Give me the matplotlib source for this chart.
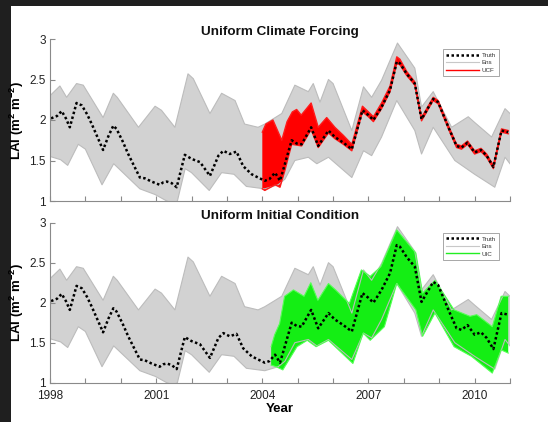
import numpy as np
import matplotlib
matplotlib.use("Agg")
import matplotlib.pyplot as plt
from matplotlib.patches import Rectangle

# === Dados ===
truth_year = [1998.03, 1998.2, 1998.33, 1998.45, 1998.56, 1998.75, 1998.9, 1999.05, 1999.18, 1999.35,
              1999.5, 1999.65, 1999.79, 1999.88, 2000.05, 2000.21, 2000.38, 2000.54, 2000.68, 2000.87,
              2001.1, 2001.2, 2001.3, 2001.44, 2001.58, 2001.7, 2001.81, 2002.0, 2002.24, 2002.52,
              2002.76, 2002.9, 2003.08, 2003.27, 2003.46, 2003.7, 2003.88, 2004.07, 2004.2, 2004.36,
              2004.5, 2004.64, 2004.83, 2004.97, 2005.11, 2005.38, 2005.58, 2005.87, 2006.05, 2006.29,
              2006.53, 2006.83, 2007.0, 2007.14, 2007.37, 2007.61, 2007.8, 2007.89, 2008.08, 2008.31,
              2008.5, 2008.83, 2008.97, 2009.26, 2009.49, 2009.63, 2009.8, 2010.0, 2010.18, 2010.34,
              2010.53, 2010.76, 2010.95]
truth_lai = [2.02, 2.05, 2.11, 2.02, 1.91, 2.21, 2.18, 2.07, 1.95, 1.78,
             1.63, 1.80, 1.93, 1.89, 1.74, 1.58, 1.43, 1.29, 1.28, 1.24,
             1.20, 1.23, 1.24, 1.22, 1.17, 1.38, 1.57, 1.52, 1.48, 1.31,
             1.56, 1.62, 1.58, 1.61, 1.43, 1.33, 1.29, 1.25, 1.27, 1.35,
             1.25, 1.46, 1.75, 1.71, 1.70, 1.91, 1.68, 1.87, 1.79, 1.72,
             1.64, 2.12, 2.06, 2.00, 2.16, 2.37, 2.72, 2.70, 2.57, 2.45,
             2.01, 2.26, 2.22, 1.91, 1.68, 1.66, 1.72, 1.60, 1.63, 1.56,
             1.42, 1.87, 1.85]

# envelope do ensemble (cinza)
ens_up_year = [1998.0, 1998.07, 1998.28, 1998.47, 1998.75, 1998.94, 1999.5, 1999.79, 1999.9, 2000.5,
               2000.97, 2001.15, 2001.53, 2001.9, 2002.05, 2002.52, 2002.85, 2003.23, 2003.5, 2003.88,
               2004.07, 2004.55, 2004.92, 2005.3, 2005.44, 2005.63, 2005.87, 2006.0, 2006.53, 2006.86,
               2007.09, 2007.37, 2007.82, 2008.31, 2008.5, 2008.83, 2009.35, 2009.82, 2010.0, 2010.48,
               2010.86, 2011.0]
ens_up_lai = [2.30, 2.33, 2.42, 2.28, 2.45, 2.43, 2.03, 2.33, 2.28, 1.91,
              2.17, 2.12, 1.91, 2.57, 2.51, 2.08, 2.33, 2.24, 1.95, 1.91,
              1.95, 2.08, 2.43, 2.35, 2.45, 2.22, 2.50, 2.45, 1.87, 2.41,
              2.28, 2.49, 2.95, 2.64, 2.16, 2.35, 1.91, 2.04, 1.97, 1.79,
              2.14, 2.08]
ens_lo_year = [1998.0, 1998.3, 1998.5, 1998.8, 1999.0, 1999.47, 1999.8, 2000.54, 2000.97, 2001.3,
               2001.5, 2001.6, 2001.82, 2002.0, 2002.5, 2002.85, 2003.2, 2003.55, 2004.07, 2004.45,
               2004.64, 2004.92, 2005.3, 2005.54, 2005.87, 2006.53, 2006.86, 2007.09, 2007.37, 2007.8,
               2008.31, 2008.5, 2008.83, 2009.44, 2010.0, 2010.57, 2010.86, 2011.0]
ens_lo_lai = [1.55, 1.51, 1.44, 1.70, 1.64, 1.20, 1.46, 1.15, 1.08, 1.00,
              0.97, 1.00, 1.40, 1.35, 1.13, 1.35, 1.33, 1.18, 1.15, 1.20,
              1.27, 1.50, 1.54, 1.46, 1.54, 1.29, 1.62, 1.56, 1.79, 2.24,
              1.87, 1.58, 1.91, 1.50, 1.33, 1.17, 1.54, 1.46]

# UCF (vermelho)
ucf_up_year = [2004.0, 2004.1, 2004.3, 2004.45, 2004.55, 2004.7, 2004.85, 2004.97, 2005.1, 2005.38,
               2005.58, 2005.82, 2006.05, 2006.29, 2006.53, 2006.83, 2007.0, 2007.14, 2007.37, 2007.61,
               2007.8, 2007.89, 2008.08, 2008.31, 2008.5, 2008.83, 2008.97, 2009.26, 2009.49, 2009.63,
               2009.8, 2010.0, 2010.18, 2010.34, 2010.53, 2010.76, 2010.95]
ucf_up_lai = [1.85, 1.95, 2.00, 1.85, 1.75, 1.98, 2.10, 2.13, 2.06, 2.21,
              1.91, 2.03, 1.91, 1.81, 1.70, 2.17, 2.10, 2.04, 2.21, 2.42,
              2.78, 2.75, 2.60, 2.47, 2.03, 2.28, 2.24, 1.93, 1.70, 1.68,
              1.74, 1.62, 1.65, 1.58, 1.44, 1.89, 1.87]
ucf_lo_year = [2004.0, 2004.07, 2004.36, 2004.5, 2004.64, 2004.83, 2004.97, 2005.11, 2005.38, 2005.58,
               2005.87, 2006.05, 2006.29, 2006.53, 2006.83, 2007.0, 2007.14, 2007.37, 2007.61, 2007.8,
               2007.89, 2008.08, 2008.31, 2008.5, 2008.83, 2008.97, 2009.26, 2009.49, 2009.63, 2009.8,
               2010.0, 2010.18, 2010.34, 2010.53, 2010.76, 2010.95]
ucf_lo_lai = [1.15, 1.13, 1.20, 1.17, 1.38, 1.70, 1.69, 1.68, 1.88, 1.66,
              1.84, 1.77, 1.70, 1.62, 2.10, 2.04, 1.98, 2.14, 2.35, 2.70,
              2.68, 2.55, 2.43, 1.99, 2.24, 2.20, 1.89, 1.66, 1.64, 1.70,
              1.58, 1.61, 1.54, 1.40, 1.85, 1.83]

# UIC (verde)
uic_up_year = [2004.25, 2004.35, 2004.49, 2004.63, 2004.88, 2005.18, 2005.37, 2005.57, 2005.87, 2006.07,
               2006.46, 2006.8, 2007.05, 2007.35, 2007.8, 2008.34, 2008.53, 2008.88, 2009.42, 2009.87,
               2010.06, 2010.5, 2010.75, 2010.95]
uic_up_lai = [1.45, 1.60, 1.74, 2.08, 2.16, 2.08, 2.25, 2.03, 2.24, 2.16,
              1.99, 2.41, 2.33, 2.45, 2.91, 2.62, 2.12, 2.28, 1.91, 1.83,
              1.85, 1.70, 2.08, 2.08]
uic_lo_year = [2004.25, 2004.39, 2004.58, 2004.98, 2005.27, 2005.52, 2005.87, 2006.56, 2006.85, 2007.05,
               2007.45, 2007.8, 2008.34, 2008.53, 2008.88, 2009.42, 2009.91, 2010.5, 2010.75, 2010.95]
uic_lo_lai = [1.22, 1.20, 1.16, 1.45, 1.53, 1.45, 1.53, 1.24, 1.62, 1.53,
              1.70, 2.24, 1.91, 1.58, 1.87, 1.45, 1.33, 1.12, 1.41, 1.37]

year_ticks = list(range(1998, 2012))
year_labels = ["1998", "", "", "2001", "", "", "2004", "", "", "2007", "", "", "2010", ""]
lai_ticks = [1, 1.5, 2, 2.5, 3]
lai_labels = ["1", "1.5", "2", "2.5", "3"]

# === Estilo ===
plt.rcParams["font.family"] = ["Liberation Sans", "DejaVu Sans"]
plt.rcParams["mathtext.fontset"] = "custom"
plt.rcParams["mathtext.rm"] = "Liberation Sans"
plt.rcParams["mathtext.bf"] = "Liberation Sans:bold"

cinza = "#d2d2d2"
cinza_borda = "#bcbcbc"
eixo = "#8a8a8a"

fig = plt.figure(figsize=(5.48, 4.22), dpi=100, facecolor="#1f1f1f")
fig.patches.append(Rectangle((11 / 548, 0), 1, 1 - 6 / 422, transform=fig.transFigure,
                             facecolor="white", edgecolor="none", zorder=-10))

ax1 = fig.add_axes([50 / 548, 1 - 201 / 422, 460 / 548, 162 / 422])
ax2 = fig.add_axes([50 / 548, 1 - 382.7 / 422, 460 / 548, 160 / 422])


def envelope(ax, xu, yu, xl, yl, cor, borda, lw=0.8):
    xs = np.concatenate([np.array(xu), np.array(xl)[::-1]])
    ys = np.concatenate([np.array(yu), np.array(yl)[::-1]])
    ax.fill(xs, ys, color=cor, lw=0)
    ax.plot(xu, yu, color=borda, lw=lw)
    ax.plot(xl, yl, color=borda, lw=lw)


for ax, titulo in [(ax1, "Uniform Climate Forcing"), (ax2, "Uniform Initial Condition")]:
    ax.set_facecolor("none")
    envelope(ax, ens_up_year, ens_up_lai, ens_lo_year, ens_lo_lai, cinza, cinza_borda)
    if ax is ax1:
        envelope(ax, ucf_up_year, ucf_up_lai, ucf_lo_year, ucf_lo_lai, "#ff0000", "#ff1a1a", lw=1.0)
        nome = "UCF"
        cor = "#ff0000"
    else:
        envelope(ax, uic_up_year, uic_up_lai, uic_lo_year, uic_lo_lai, "#14ee14", "#55ff55", lw=0.8)
        nome = "UIC"
        cor = "#22ee22"
    ax.plot(truth_year, truth_lai, color="black", lw=1.8, linestyle=(0, (1, 1)))

    h1, = ax.plot([], [], color="black", lw=1.8, linestyle=(0, (1, 1)), label="Truth")
    h2, = ax.plot([], [], color="#c8c8c8", lw=0.8, label="Ens")
    h3, = ax.plot([], [], color=cor, lw=1.0, label=nome)
    leg = ax.legend(handles=[h1, h2, h3], loc="upper right", bbox_to_anchor=(0.982, 0.955),
                    fontsize=4.5, handlelength=5.2, labelspacing=0.35, borderpad=0.5,
                    handletextpad=0.4, fancybox=False, framealpha=1)
    leg.get_frame().set_edgecolor("#999999")
    leg.get_frame().set_linewidth(0.6)
    for t in leg.get_texts():
        t.set_color("#333333")

    ax.set_xlim(1998, 2011)
    ax.set_ylim(1, 3)
    ax.set_xticks(year_ticks)
    ax.set_yticks(lai_ticks)
    ax.set_yticklabels(lai_labels)
    if ax is ax2:
        ax.set_xticklabels(year_labels)
        ax.set_xlabel("Year", fontsize=9.5, fontweight="bold", labelpad=1)
    else:
        ax.set_xticklabels([])
    for lado in ["top", "right"]:
        ax.spines[lado].set_visible(False)
    for lado in ["left", "bottom"]:
        ax.spines[lado].set_color(eixo)
        ax.spines[lado].set_linewidth(0.8)
    ax.tick_params(direction="in", length=3.5, width=0.8, color=eixo, labelsize=8.5,
                   labelcolor="#222222")
    ax.tick_params(axis="x", pad=5)
    ax.tick_params(axis="y", pad=3)
    ax.set_title(titulo, fontsize=9.7, fontweight="bold", pad=3, color="#111111")
    ax.set_ylabel(r"LAI (m$^{\mathbf{2}}$ m$^{\mathbf{-2}}$)", fontsize=9.5, fontweight="bold")
    ax.yaxis.set_label_coords(-0.052, 0.5)

fig.savefig("out.png", dpi=100, facecolor=fig.get_facecolor())
